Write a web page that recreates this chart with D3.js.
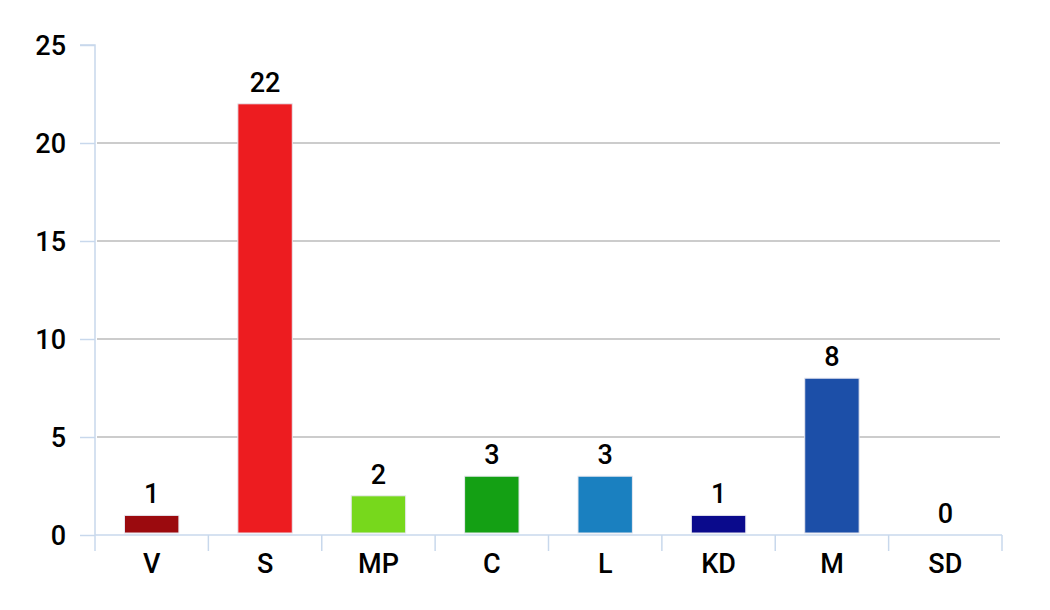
<!DOCTYPE html>
<html><head><meta charset="utf-8">
<script src="https://cdn.jsdelivr.net/npm/d3@7"></script>
<style>body{margin:0;background:#fff}svg{display:block}text{font-family:Roboto,"DejaVu Sans",sans-serif;font-weight:500}</style>
</head><body><svg id="c" width="1050" height="610"></svg>
<script>
const categories = ["V","S","MP","C","L","KD","M","SD"];
const values = [1,22,2,3,3,1,8,0];
const colors = ["#9b0a0e","#ed1c20","#77d81c","#14a014","#1a80c0","#0a0a8c","#1c4fa8","#cccccc"];
const yTicks = [0,5,10,15,20,25];

const svg = d3.select("#c");
const x0 = 95, x1 = 1002, yb = 535, yt = 45;
const x = d3.scaleBand().domain(categories).range([x0,x1]).paddingInner(0.52).paddingOuter(0.26);
const y = d3.scaleLinear().domain([0,25]).range([yb,yt]);

// gridlines
svg.append("g").selectAll("line").data(yTicks.filter(d=>d>0 && d<25)).join("line")
  .attr("x1",x0+2).attr("x2",x1-2).attr("y1",d=>y(d)).attr("y2",d=>y(d))
  .attr("stroke","#cccccc").attr("stroke-width",2);

// y axis
const ya = svg.append("g").attr("transform",`translate(${x0},0)`)
  .call(d3.axisLeft(y).tickValues(yTicks).tickSize(15).tickPadding(14));
ya.select(".domain").attr("stroke","#c8d8ec").attr("stroke-width",1.5).attr("d",`M-15,${yt}H0V${yb}`);
ya.selectAll(".tick line").attr("stroke","#c8d8ec").attr("stroke-width",1.5);
ya.selectAll(".tick text").attr("font-size",27).attr("fill","#000").attr("font-family","Roboto, sans-serif").attr("font-weight",500).attr("dy","0.36em");

// x axis
const xa = svg.append("g").attr("transform",`translate(0,${yb})`);
xa.append("line").attr("x1",x0).attr("x2",x1).attr("y1",0).attr("y2",0).attr("stroke","#c8d8ec").attr("stroke-width",1.5);
const step = (x1-x0)/categories.length;
xa.selectAll("line.t").data(d3.range(categories.length+1)).join("line").attr("class","t")
  .attr("x1",i=>x0+i*step).attr("x2",i=>x0+i*step).attr("y1",0).attr("y2",16)
  .attr("stroke","#c8d8ec").attr("stroke-width",1.5);
xa.selectAll("text").data(categories).join("text")
  .attr("x",d=>x(d)+x.bandwidth()/2).attr("y",38).attr("text-anchor","middle")
  .attr("font-size",27).attr("fill","#000").text(d=>d);

// bars
svg.append("g").selectAll("rect").data(values).join("rect")
  .attr("x",(d,i)=>x(categories[i])).attr("width",x.bandwidth())
  .attr("y",d=>y(d)).attr("height",d=>Math.max(0,yb-2-y(d)))
  .attr("fill",(d,i)=>colors[i]).attr("stroke","#e8e8f0").attr("stroke-width",1)
  .attr("display",d=>d>0?null:"none");

// value labels
svg.append("g").selectAll("text").data(values).join("text")
  .attr("x",(d,i)=>x(categories[i])+x.bandwidth()/2).attr("y",d=>y(d)-12)
  .attr("text-anchor","middle").attr("font-size",27).attr("fill","#000").text(d=>d);
</script></body></html>
